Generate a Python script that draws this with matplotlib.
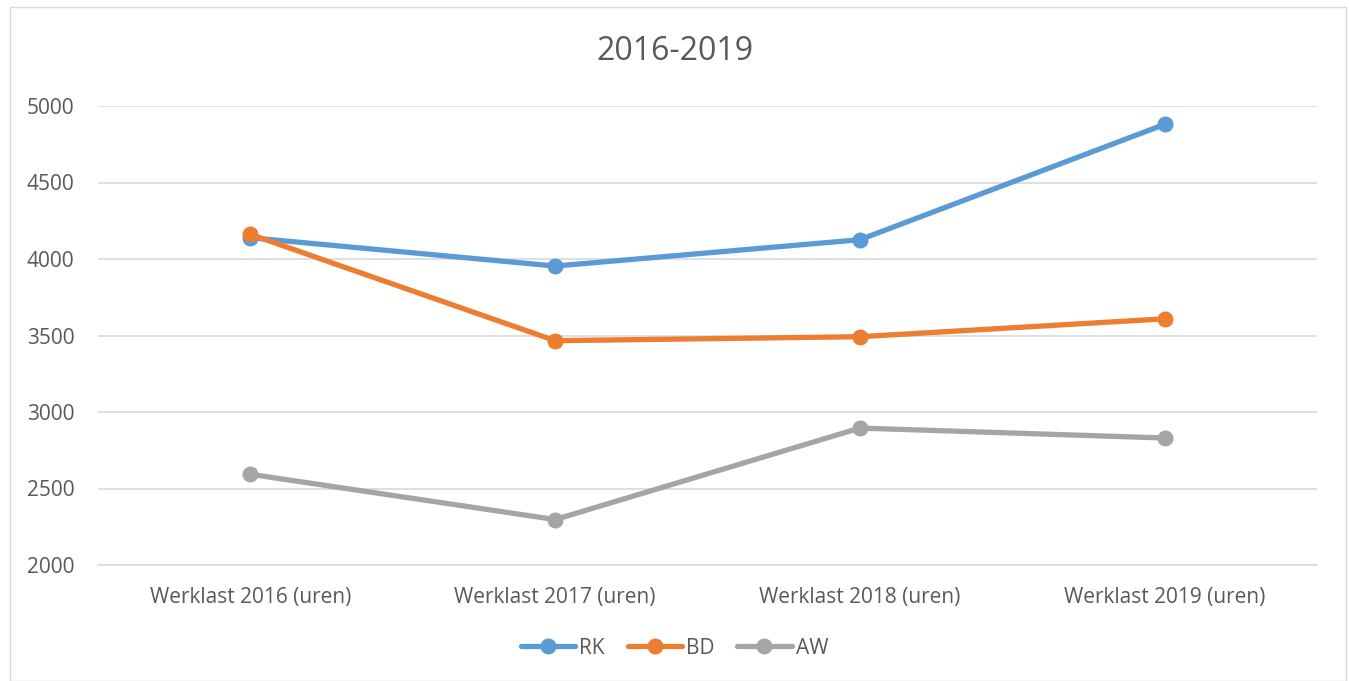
import matplotlib
matplotlib.use("Agg")
import matplotlib.pyplot as plt
from matplotlib.patches import Rectangle

categories = ["Werklast 2016 (uren)", "Werklast 2017 (uren)", "Werklast 2018 (uren)", "Werklast 2019 (uren)"]
rk = [4139, 3954, 4126, 4880]
bd = [4161, 3466, 3492, 3609]
aw = [2593, 2297, 2895, 2830]
series_names = ["RK", "BD", "AW"]
colors = ["#5B9BD5", "#ED7D31", "#A5A5A5"]
yticks = [2000, 2500, 3000, 3500, 4000, 4500, 5000]

plt.rcParams['font.family'] = ['Open Sans', 'DejaVu Sans']
W, H = 1349, 681
fig = plt.figure(figsize=(W/100, H/100), dpi=100)
fig.patch.set_facecolor("white")
fig.patches.append(Rectangle((10/W, 0), (1346-10)/W, 1-7/H, transform=fig.transFigure,
                             fill=False, edgecolor="#D9D9D9", linewidth=1))

ax = fig.add_axes([98/W, 1-565/H, (1317-98)/W, (565-106)/H])
x = list(range(len(categories)))
for name, vals, c in zip(series_names, [rk, bd, aw], colors):
    ax.plot(x, vals, color=c, linewidth=3.8, marker='o', markersize=10.5,
            solid_capstyle='round', label=name)

ax.set_xlim(-0.5, len(categories) - 0.5)
ax.set_ylim(2000, 5000)
ax.set_yticks(yticks)
ax.set_yticklabels([str(v) for v in yticks])
ax.set_xticks(x)
ax.set_xticklabels(categories)
ax.tick_params(axis='both', length=0, labelsize=15, labelcolor="#595959")
ax.tick_params(axis='y', pad=17)
ax.tick_params(axis='x', pad=16)
ax.grid(axis='y', color="#D9D9D9", linewidth=1.2)
ax.set_axisbelow(True)
for s in ["top", "right", "left"]:
    ax.spines[s].set_visible(False)
ax.spines["bottom"].set_color("#D9D9D9")
ax.spines["bottom"].set_linewidth(1.2)

fig.text(0.5, 1-52/H, "2016-2019", ha='center', va='center', fontsize=23, color="#595959")
leg = fig.legend(loc='center', bbox_to_anchor=(0.5, 1-648/H), ncol=3, frameon=False,
                 fontsize=15, handlelength=2.6, columnspacing=1.1, handletextpad=0.2)
for t in leg.get_texts():
    t.set_color("#595959")

fig.savefig("out.png", dpi=100)
